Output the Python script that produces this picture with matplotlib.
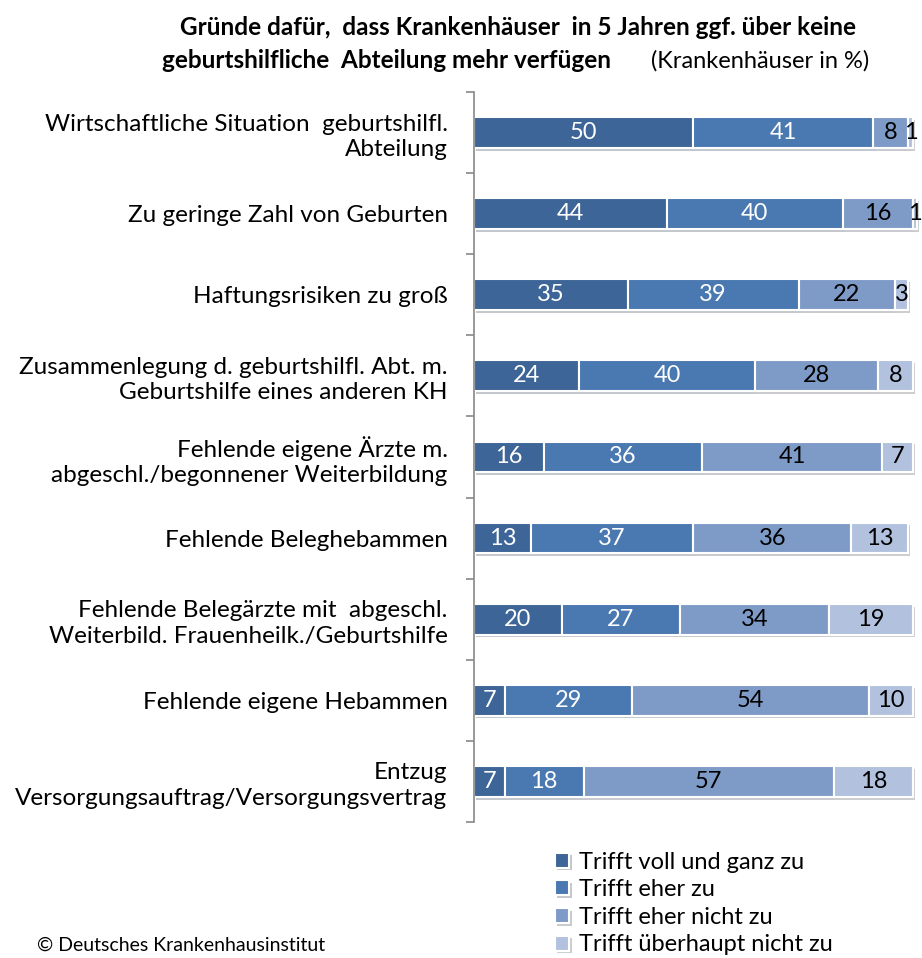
import matplotlib.pyplot as plt
import matplotlib.patheffects as pe

plt.rcParams['font.family'] = ['Lato', 'DejaVu Sans']

categories = [
    'Wirtschaftliche Situation  geburtshilfl.\nAbteilung',
    'Zu geringe Zahl von Geburten',
    'Haftungsrisiken zu groß',
    'Zusammenlegung d. geburtshilfl. Abt. m.\nGeburtshilfe eines anderen KH',
    'Fehlende eigene Ärzte m.\nabgeschl./begonnener Weiterbildung',
    'Fehlende Beleghebammen',
    'Fehlende Belegärzte mit  abgeschl.\nWeiterbild. Frauenheilk./Geburtshilfe',
    'Fehlende eigene Hebammen',
    'Entzug\nVersorgungsauftrag/Versorgungsvertrag',
]
voll = [50, 44, 35, 24, 16, 13, 20, 7, 7]
eher = [41, 40, 39, 40, 36, 37, 27, 29, 18]
eher_nicht = [8, 16, 22, 28, 41, 36, 34, 54, 57]
gar_nicht = [1, 1, 3, 8, 7, 13, 19, 10, 18]

series = [voll, eher, eher_nicht, gar_nicht]
names = ['Trifft voll und ganz zu', 'Trifft eher zu', 'Trifft eher nicht zu',
         'Trifft überhaupt nicht zu']
colors = ['#3d6597', '#4a78b0', '#7e9bc8', '#b2c2de']
txtcol = ['white', 'white', 'black', 'black']

fig = plt.figure(figsize=(9.22, 9.58), dpi=100)
ax = fig.add_axes([0.514, 0.142, 0.476, 0.762])

y = list(range(len(categories)))
left = [0] * len(categories)
handles = []
for vals, name, c, tc in zip(series, names, colors, txtcol):
    bars = ax.barh(y, vals, left=left, height=0.38, color=c, edgecolor='white',
                   linewidth=1.5, label=name, clip_on=False)
    for b in bars:
        b.set_path_effects([pe.SimplePatchShadow(offset=(1.5, -2), alpha=0.25),
                            pe.Normal()])
    for yi, v, l in zip(y, vals, left):
        ax.text(l + v / 2, yi, str(v), ha='center', va='center', color=tc,
                fontsize=17, clip_on=False)
    handles.append(bars)
    left = [a + b for a, b in zip(left, vals)]

ax.set_xlim(0, 100)
ax.set_ylim(len(categories) - 0.5, -0.5)
ax.set_yticks([i - 0.5 for i in range(len(categories) + 1)])
ax.set_yticklabels([])
ax.set_yticks(y, minor=True)
ax.set_yticklabels(categories, minor=True, fontsize=17.5, linespacing=1.27)
ax.tick_params(axis='y', which='minor', length=0, pad=19)
ax.tick_params(axis='y', which='major', length=6, color='#888888', width=1.2)
ax.set_xticks([])
for s in ['top', 'right', 'bottom']:
    ax.spines[s].set_visible(False)
ax.spines['left'].set_color('#888888')
ax.spines['left'].set_linewidth(1.2)

fig.text(0.562, 0.971, 'Gründe dafür,  dass Krankenhäuser  in 5 Jahren ggf. über keine',
         ha='center', va='center', fontsize=17.5, fontweight='bold')
fig.text(0.176, 0.937, 'geburtshilfliche  Abteilung mehr verfügen',
         ha='left', va='center', fontsize=17.5, fontweight='bold')
fig.text(0.706, 0.937, '(Krankenhäuser in %)', ha='left', va='center', fontsize=17)

fig.legend(handles=handles, labels=names, loc='upper left',
           bbox_to_anchor=(0.592, 0.121), frameon=False, fontsize=17,
           handlelength=0.6, handleheight=0.6, handletextpad=0.4,
           labelspacing=0.28, borderaxespad=0)

fig.text(0.04, 0.013, '© Deutsches Krankenhausinstitut', ha='left', va='center',
         fontsize=14)

fig.savefig('out.png', dpi=100)
